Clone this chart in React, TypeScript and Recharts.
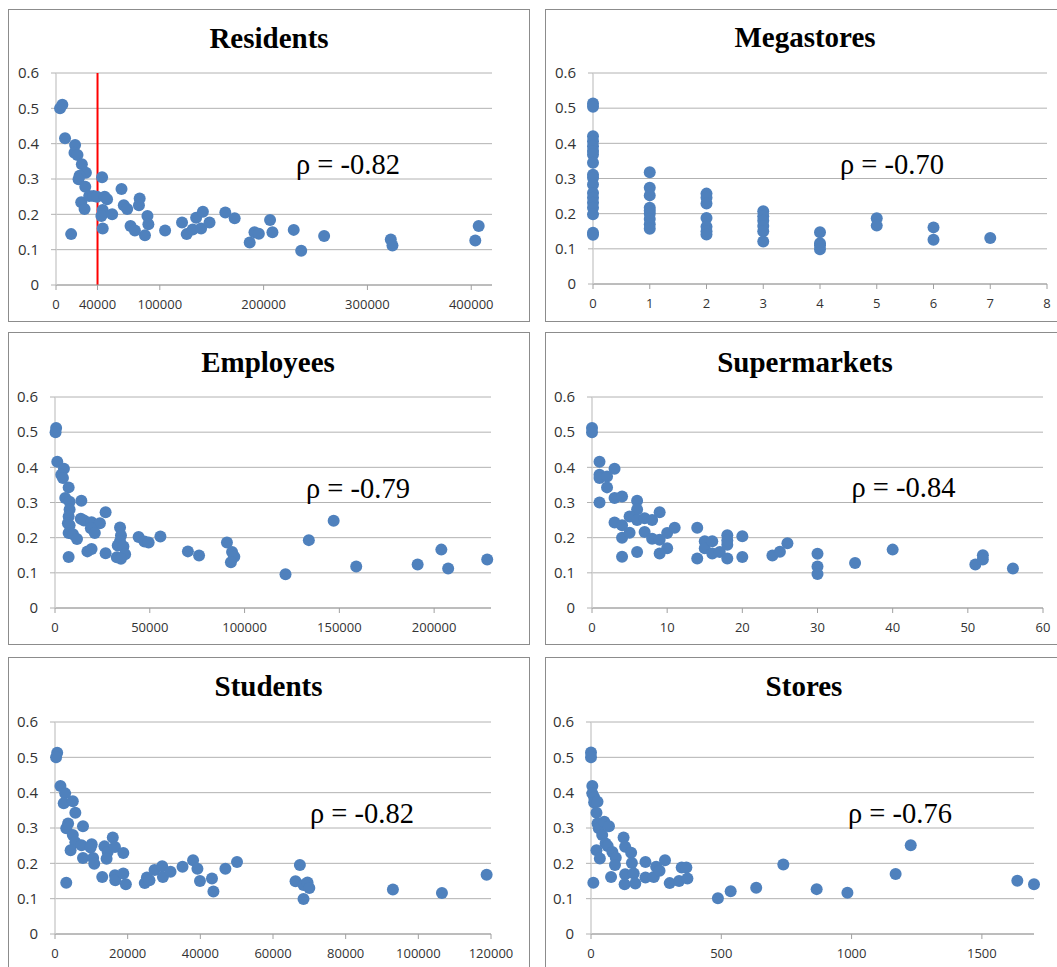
import React from 'react';
import { ScatterChart, Scatter, XAxis, YAxis, CartesianGrid, ReferenceLine } from 'recharts';

// ---------- data ----------
const yTicks = [0, 0.1, 0.2, 0.3, 0.4, 0.5, 0.6];

const residentsTicks = [0, 40000, 100000, 200000, 300000, 400000];
const residents: [number, number][] = [
  [3900, 0.5], [6100, 0.51], [8700, 0.415], [18400, 0.396], [17800, 0.374], [20700, 0.368],
  [24900, 0.342], [28800, 0.318], [22700, 0.309], [21700, 0.299], [28200, 0.278], [24300, 0.234],
  [27500, 0.215], [32000, 0.252], [36200, 0.252], [39500, 0.25], [44400, 0.305], [46900, 0.25],
  [49200, 0.243], [45000, 0.212], [43700, 0.195], [54100, 0.2], [45000, 0.16], [14600, 0.144],
  [63100, 0.272], [65300, 0.226], [68600, 0.215], [80600, 0.245], [79900, 0.226], [88100, 0.195],
  [89000, 0.172], [85700, 0.141], [71800, 0.167], [76000, 0.154], [105100, 0.154], [121400, 0.177],
  [125900, 0.144], [131700, 0.157], [135000, 0.19], [141500, 0.207], [139800, 0.16], [147900, 0.177],
  [163100, 0.205], [172100, 0.189], [186600, 0.12], [191200, 0.149], [195400, 0.145], [206200, 0.184],
  [208500, 0.149], [229000, 0.156], [236200, 0.097], [258300, 0.139], [322500, 0.129], [324100, 0.112],
  [403900, 0.126], [407200, 0.167],
];

const megastoresTicks = [0, 1, 2, 3, 4, 5, 6, 7, 8];
const megastores: [number, number][] = [
  [0, 0.513], [0, 0.504], [0, 0.42], [0, 0.406], [0, 0.392], [0, 0.378], [0, 0.368], [0, 0.345],
  [0, 0.311], [0, 0.302], [0, 0.283], [0, 0.259], [0, 0.245], [0, 0.231], [0, 0.217], [0, 0.198],
  [0, 0.146], [0, 0.14],
  [1, 0.318], [1, 0.274], [1, 0.252], [1, 0.217], [1, 0.208], [1, 0.2], [1, 0.185], [1, 0.17], [1, 0.157],
  [2, 0.257], [2, 0.245], [2, 0.229], [2, 0.188], [2, 0.163], [2, 0.15], [2, 0.141],
  [3, 0.207], [3, 0.193], [3, 0.18], [3, 0.165], [3, 0.15], [3, 0.121],
  [4, 0.147], [4, 0.116], [4, 0.11], [4, 0.099],
  [5, 0.187], [5, 0.166],
  [6, 0.161], [6, 0.126],
  [7, 0.131],
];

const employeesTicks = [0, 50000, 100000, 150000, 200000];
const employees: [number, number][] = [
  [600, 0.512], [300, 0.5], [1200, 0.416], [4700, 0.396], [3300, 0.379], [4200, 0.37], [7200, 0.343],
  [5400, 0.313], [7700, 0.302], [7700, 0.28], [13900, 0.305], [7200, 0.26], [6800, 0.241], [7700, 0.235],
  [7200, 0.213], [9500, 0.21], [11600, 0.196], [13600, 0.254], [15300, 0.249], [26700, 0.272],
  [19300, 0.244], [23700, 0.241], [18900, 0.227], [21000, 0.213], [7200, 0.145], [17100, 0.161],
  [19300, 0.168], [26700, 0.156], [34300, 0.229], [34800, 0.206], [34300, 0.19], [33100, 0.178],
  [36100, 0.175], [37000, 0.153], [32600, 0.144], [34800, 0.14], [44100, 0.202], [47200, 0.189],
  [49400, 0.186], [55600, 0.203], [70100, 0.161], [76000, 0.149], [90700, 0.186], [93400, 0.159],
  [94600, 0.146], [92800, 0.13], [121600, 0.096], [133900, 0.193], [147000, 0.248], [158900, 0.118],
  [191300, 0.124], [203800, 0.166], [207400, 0.112], [228000, 0.138],
];

const supermarketsTicks = [0, 10, 20, 30, 40, 50, 60];
const supermarkets: [number, number][] = [
  [0, 0.512], [0, 0.5], [1, 0.416], [1, 0.379], [1, 0.37], [2, 0.374], [2, 0.343], [3, 0.396],
  [3, 0.313], [4, 0.317], [1, 0.3], [3, 0.243], [4, 0.235], [4, 0.2], [5, 0.214], [6, 0.305],
  [6, 0.28], [5, 0.26], [6, 0.25], [7, 0.255], [7, 0.216], [8, 0.25], [9, 0.272], [8, 0.197],
  [9, 0.194], [10, 0.213], [11, 0.228], [10, 0.17], [9, 0.155], [4, 0.146], [6, 0.159], [14, 0.228],
  [14, 0.141], [15, 0.19], [15, 0.17], [16, 0.19], [16, 0.155], [17, 0.159], [18, 0.207], [18, 0.18],
  [18, 0.192], [18, 0.141], [20, 0.204], [20, 0.145], [24, 0.149], [25, 0.16], [26, 0.184],
  [30, 0.154], [30, 0.118], [30, 0.097], [35, 0.128], [40, 0.166], [51, 0.124], [52, 0.15],
  [52, 0.138], [56, 0.112],
];

const studentsTicks = [0, 20000, 40000, 60000, 80000, 100000, 120000];
const students: [number, number][] = [
  [600, 0.513], [300, 0.5], [1500, 0.419], [2800, 0.398], [2400, 0.37], [4900, 0.376], [5600, 0.343],
  [3600, 0.313], [3100, 0.299], [7700, 0.305], [4900, 0.28], [5600, 0.26], [4300, 0.237], [7300, 0.251],
  [10100, 0.254], [9800, 0.245], [7700, 0.215], [10500, 0.215], [10800, 0.199], [13600, 0.248],
  [14500, 0.232], [14200, 0.213], [15900, 0.273], [16500, 0.246], [18800, 0.229], [3100, 0.145],
  [13000, 0.161], [16500, 0.166], [16600, 0.152], [18800, 0.171], [19500, 0.141], [24700, 0.144],
  [25300, 0.16], [26000, 0.152], [27400, 0.181], [29500, 0.192], [29700, 0.161], [31800, 0.176],
  [35100, 0.19], [38000, 0.209], [39200, 0.185], [39900, 0.15], [43200, 0.157], [43600, 0.12],
  [46900, 0.185], [50100, 0.204], [66200, 0.149], [67400, 0.195], [68400, 0.139], [69500, 0.146],
  [70000, 0.13], [68400, 0.099], [93000, 0.126], [106500, 0.116], [118800, 0.168],
];

const storesTicks = [0, 500, 1000, 1500];
const stores: [number, number][] = [
  [0, 0.514], [0, 0.5], [5, 0.419], [5, 0.398], [12, 0.387], [12, 0.372], [25, 0.374], [21, 0.343],
  [25, 0.313], [30, 0.299], [51, 0.318], [69, 0.305], [43, 0.28], [21, 0.237], [34, 0.214], [56, 0.256],
  [64, 0.249], [82, 0.232], [95, 0.216], [92, 0.195], [125, 0.273], [131, 0.247], [154, 0.23],
  [157, 0.201], [9, 0.145], [77, 0.161], [131, 0.169], [129, 0.141], [164, 0.171], [170, 0.143],
  [209, 0.204], [209, 0.16], [241, 0.161], [250, 0.19], [263, 0.179], [284, 0.209], [302, 0.144],
  [338, 0.15], [348, 0.188], [366, 0.188], [370, 0.157], [487, 0.101], [536, 0.121], [634, 0.131],
  [738, 0.197], [866, 0.127], [984, 0.117], [1169, 0.17], [1227, 0.251], [1636, 0.151], [1700, 0.141],
];

// ---------- layout ----------
type Box = { l: number; t: number; w: number; h: number };
type Plot = { l: number; t: number; r: number; b: number };
type PanelCfg = {
  title: string;
  rho: string;
  data: [number, number][];
  ticks: number[];
  xMax: number;
  box: Box;
  plot: Plot;
  titlePos: [number, number];
  rhoPos: [number, number];
  refX?: number;
};

const panels: PanelCfg[] = [
  {
    title: 'Residents', rho: 'ρ = -0.82', data: residents, ticks: residentsTicks, xMax: 420000,
    box: { l: 8, t: 9, w: 522, h: 313 }, plot: { l: 56, t: 73, r: 492, b: 285 },
    titlePos: [269, 47.5], rhoPos: [296, 174], refX: 40000,
  },
  {
    title: 'Megastores', rho: 'ρ = -0.70', data: megastores, ticks: megastoresTicks, xMax: 8,
    box: { l: 545, t: 9, w: 521, h: 313 }, plot: { l: 593, t: 73, r: 1047, b: 284 },
    titlePos: [805, 47], rhoPos: [840, 173.5],
  },
  {
    title: 'Employees', rho: 'ρ = -0.79', data: employees, ticks: employeesTicks, xMax: 230000,
    box: { l: 8, t: 332, w: 522, h: 313 }, plot: { l: 55, t: 397, r: 491, b: 608 },
    titlePos: [268, 371.5], rhoPos: [306, 498],
  },
  {
    title: 'Supermarkets', rho: 'ρ = -0.84', data: supermarkets, ticks: supermarketsTicks, xMax: 60,
    box: { l: 545, t: 332, w: 521, h: 313 }, plot: { l: 592, t: 397, r: 1043, b: 608 },
    titlePos: [805, 371.5], rhoPos: [851.5, 497],
  },
  {
    title: 'Students', rho: 'ρ = -0.82', data: students, ticks: studentsTicks, xMax: 120000,
    box: { l: 8, t: 657, w: 522, h: 313 }, plot: { l: 55, t: 722, r: 491, b: 934 },
    titlePos: [268.5, 696], rhoPos: [310, 822.7],
  },
  {
    title: 'Stores', rho: 'ρ = -0.76', data: stores, ticks: storesTicks, xMax: 1700,
    box: { l: 545, t: 657, w: 521, h: 313 }, plot: { l: 591, t: 722, r: 1034, b: 934 },
    titlePos: [804, 696], rhoPos: [848, 823],
  },
];

const DOT = '#4F81BD';
const GRID = '#b2b2b2';
const TICK_FONT = '"Open Sans", sans-serif';
const TICK_FILL = '#333333';

const Dot = (props: any) => {
  if (props.cx == null || props.cy == null) return null;
  return <circle cx={props.cx} cy={props.cy} r={6} fill={DOT} />;
};

const XTick = (props: any) => (
  <text
    x={props.x}
    y={props.y}
    dy="0.71em"
    textAnchor="middle"
    fontFamily={TICK_FONT}
    fontSize={13}
    fill={TICK_FILL}
  >
    {String(props.payload.value)}
  </text>
);

const YTick = (props: any) => (
  <text
    x={props.x}
    y={props.y}
    dy="0.355em"
    textAnchor="end"
    fontFamily={TICK_FONT}
    fontSize={15}
    fill={TICK_FILL}
  >
    {String(props.payload.value)}
  </text>
);

function Panel({ cfg }: { cfg: PanelCfg }) {
  const { box, plot } = cfg;
  const pts = cfg.data.map(([x, y]) => ({ x, y }));
  return (
    <>
      <div
        style={{
          position: 'absolute', left: box.l, top: box.t, width: box.w, height: box.h,
          border: '1px solid #8c8c8c', boxSizing: 'border-box', background: '#fff',
        }}
      />
      <div style={{ position: 'absolute', left: box.l, top: box.t }}>
        <ScatterChart
          width={box.w}
          height={box.h}
          margin={{ top: plot.t - box.t, right: box.l + box.w - plot.r, bottom: 0, left: 0 }}
        >
          <CartesianGrid vertical={false} stroke={GRID} />
          <XAxis
            type="number"
            dataKey="x"
            domain={[0, cfg.xMax]}
            ticks={cfg.ticks}
            interval={0}
            height={box.t + box.h - plot.b}
            tickSize={5}
            tickMargin={10}
            tick={<XTick />}
            axisLine={{ stroke: '#a0a0a0' }}
            tickLine={{ stroke: '#a0a0a0' }}
          />
          <YAxis
            type="number"
            dataKey="y"
            domain={[0, 0.6]}
            ticks={yTicks}
            interval={0}
            width={plot.l - box.l}
            tickSize={5}
            tickMargin={12}
            tick={<YTick />}
            axisLine={{ stroke: '#cfcfcf', strokeWidth: 1.5 }}
            tickLine={{ stroke: GRID }}
          />
          <Scatter data={pts} fill={DOT} shape={Dot} isAnimationActive={false} />
          {cfg.refX !== undefined && (
            <ReferenceLine x={cfg.refX} stroke="#ff0000" strokeWidth={2} />
          )}
        </ScatterChart>
      </div>
    </>
  );
}

export default function App() {
  return (
    <div
      style={{
        position: 'absolute', left: 0, top: 0, width: 1057, height: 967,
        overflow: 'hidden', background: '#fff',
      }}
    >
      {panels.map((p) => (
        <Panel key={p.title} cfg={p} />
      ))}
      <svg
        width={1057}
        height={967}
        style={{ position: 'absolute', left: 0, top: 0, pointerEvents: 'none' }}
      >
        {panels.map((p) => (
          <g key={p.title}>
            <text
              x={p.titlePos[0]}
              y={p.titlePos[1]}
              textAnchor="middle"
              fontFamily='"Liberation Serif", serif'
              fontWeight="bold"
              fontSize={29}
              fill="#000"
            >
              {p.title}
            </text>
            <text
              x={p.rhoPos[0]}
              y={p.rhoPos[1]}
              textAnchor="start"
              fontFamily='"Liberation Serif", serif'
              fontSize={28.5}
              fill="#000"
            >
              {p.rho}
            </text>
          </g>
        ))}
      </svg>
    </div>
  );
}
